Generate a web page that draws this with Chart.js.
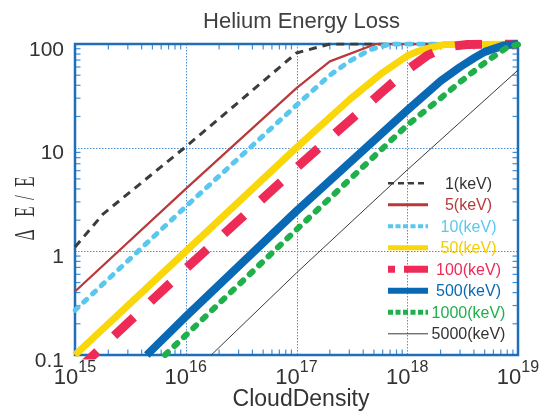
<!DOCTYPE html>
<html>
<head>
<meta charset="utf-8">
<script src="https://cdn.jsdelivr.net/npm/chart.js@4.4.1/dist/chart.umd.min.js"></script>
<style>
  html, body { margin: 0; padding: 0; background: #fff; }
  #wrap { width: 543px; height: 412px; position: relative; }
</style>
</head>
<body>
<div id="wrap"><canvas id="chart"></canvas></div>
<script>
'use strict';

// ── DATA ────────────────────────────────────────────────────────────────────
const TITLE = 'Helium Energy Loss';
const X_TITLE = 'CloudDensity';
const Y_TITLE = 'ΔE/E';

const X_TICKS = [1e15, 1e16, 1e17, 1e18, 1e19];
const X_TICK_EXP = ['15', '16', '17', '18', '19'];
const Y_TICKS = [0.1, 1, 10, 100];
const Y_TICK_LABELS = ['0.1', '1', '10', '100'];

const LABELS = ['1(keV)', '5(keV)', '10(keV)', '50(keV)', '100(keV)', '500(keV)', '1000(keV)', '5000(keV)'];

// cloud density / energy loss (%) per beam energy
const dens1    = [1e15, 1.8e15, 1e16, 3e16, 1e17, 2e17, 1e19];
const loss1    = [1.1, 2.3, 10.2, 27.5, 82, 100, 100];
const dens5    = [1e15, 1e16, 1e17, 2e17, 5.2e17, 1e19];
const loss5    = [0.41, 4.0, 37.5, 68, 100, 100];
const dens10   = [1e15, 1e16, 1e17, 2e17, 3e17, 4.6e17, 7e17, 1e19];
const loss10   = [0.27, 2.7, 25.7, 50, 68, 88, 100, 100];
const dens50   = [1e15, 1e16, 1e17, 3e17, 6e17, 1e18, 1.25e18, 1.5e18, 2.2e18, 1e19];
const loss50   = [0.1, 1.0, 10, 29, 53, 77, 85, 90, 99, 100];
const dens100  = [1e15, 1e16, 1e17, 6e17, 1e18, 1.5e18, 2e18, 2.5e18, 3.5e18, 1e19];
const loss100  = [0.068, 0.68, 6.4, 35, 56, 77, 89, 95, 99, 100];
const dens500  = [4.45e15, 1e16, 1e17, 1e18, 2e18, 3e18, 4e18, 5e18, 7.5e18, 1e19];
const loss500  = [0.1, 0.235, 2.45, 23, 44, 60, 73, 84, 97, 100];
const dens1000 = [6.5e15, 1e16, 1e17, 1e18, 2e18, 3e18, 5.2e18, 8e18, 1e19];
const loss1000 = [0.1, 0.155, 1.62, 16.5, 30, 43, 68, 93, 99];
const dens5000 = [1.7e16, 1e17, 1e18, 1e19];
const loss5000 = [0.1, 0.62, 6.1, 56];

const SERIES = [
  [dens1, loss1], [dens5, loss5], [dens10, loss10], [dens50, loss50],
  [dens100, loss100], [dens500, loss500], [dens1000, loss1000], [dens5000, loss5000]
];

// ── STYLE ───────────────────────────────────────────────────────────────────
const STYLES = [
  { color: '#3c3c3c', text: '#333333', width: 3,   dash: [8, 6],   cap: 'butt',  legW: 2.5, legDash: [6, 4] },
  { color: '#b8383b', text: '#b8383b', width: 2.2, dash: [],       cap: 'butt',  legW: 3,   legDash: [] },
  { color: '#5ac8ee', text: '#5ac8ee', width: 5,   dash: [4, 8],   cap: 'round', legW: 4,   legDash: [5, 2.5] },
  { color: '#f9d70b', text: '#f2cf00', width: 7,   dash: [],       cap: 'butt',  legW: 5,   legDash: [] },
  { color: '#ee2a56', text: '#ee2a56', width: 9,   dash: [27, 23], cap: 'butt',  legW: 7,   legDash: [7, 9, 30, 10], offset: 46.4 },
  { color: '#0a69b4', text: '#0a69b4', width: 8,   dash: [],       cap: 'butt',  legW: 6,   legDash: [] },
  { color: '#1fb04c', text: '#1fb04c', width: 6,   dash: [4, 9],   cap: 'round', legW: 5,   legDash: [5, 2.5] },
  { color: '#3a3a3a', text: '#333333', width: 1,   dash: [],       cap: 'butt',  legW: 1,   legDash: [] }
];

const SANS = '"Liberation Sans", Arial, sans-serif';
const GRID_COLOR = '#4b92d6';
const TICK_COLOR = '#3d8fd8';
const BORDER_COLOR = '#1e6fb9';

// ── PLUGIN: frame, ticks, labels, legend ────────────────────────────────────
function seg(ctx, x0, y0, x1, y1) {
  ctx.beginPath(); ctx.moveTo(x0, y0); ctx.lineTo(x1, y1); ctx.stroke();
}

const frame = {
  id: 'frame',
  beforeDatasetsDraw(chart) {
    const { ctx, chartArea: a, scales: { x, y } } = chart;
    ctx.save();

    // dotted decade grid
    ctx.strokeStyle = GRID_COLOR;
    ctx.lineWidth = 1;
    ctx.setLineDash([1.5, 1.5]);
    X_TICKS.slice(1, -1).forEach(v => {
      const px = Math.round(x.getPixelForValue(v)) + 0.5;
      seg(ctx, px, a.top, px, a.bottom);
    });
    Y_TICKS.slice(1, -1).forEach(v => {
      const py = Math.round(y.getPixelForValue(v)) + 0.5;
      seg(ctx, a.left, py, a.right, py);
    });

    // minor ticks, pointing inward on all four sides
    ctx.setLineDash([]);
    ctx.strokeStyle = TICK_COLOR;
    ctx.lineWidth = 1.2;
    const len = 5.5;
    for (let d = 15; d < 19; d++) {
      for (let m = 2; m <= 9; m++) {
        const px = x.getPixelForValue(m * Math.pow(10, d));
        seg(ctx, px, a.bottom, px, a.bottom - len);
        seg(ctx, px, a.top, px, a.top + len);
      }
    }
    for (let d = -1; d < 2; d++) {
      for (let m = 2; m <= 9; m++) {
        const py = y.getPixelForValue(m * Math.pow(10, d));
        seg(ctx, a.left, py, a.left + len, py);
        seg(ctx, a.right, py, a.right - len, py);
      }
    }

    // plot border
    ctx.strokeStyle = BORDER_COLOR;
    ctx.lineWidth = 2.5;
    ctx.strokeRect(a.left, a.top, a.right - a.left, a.bottom - a.top);
    ctx.restore();
  },

  afterDraw(chart) {
    const { ctx, scales: { x, y } } = chart;
    ctx.save();

    // title
    ctx.font = '22px ' + SANS;
    ctx.textAlign = 'center';
    ctx.textBaseline = 'alphabetic';
    ctx.fillStyle = '#404040';
    ctx.fillText(TITLE, 301.5, 28);

    // y tick labels
    ctx.fillStyle = '#333';
    ctx.font = '21px ' + SANS;
    ctx.textAlign = 'right';
    Y_TICKS.forEach((v, i) => ctx.fillText(Y_TICK_LABELS[i], 64, y.getPixelForValue(v) + 11.5));

    // x tick labels: 10 with superscript exponent
    ctx.textAlign = 'left';
    X_TICKS.forEach((v, i) => {
      const px = x.getPixelForValue(v);
      ctx.font = '22px ' + SANS;
      const wb = ctx.measureText('10').width;
      ctx.font = '16px ' + SANS;
      const we = ctx.measureText(X_TICK_EXP[i]).width;
      const x0 = px - (wb + we) / 2;
      ctx.font = '22px ' + SANS;
      ctx.fillText('10', x0, 384);
      ctx.font = '16px ' + SANS;
      ctx.fillText(X_TICK_EXP[i], x0 + wb, 372);
    });

    // x title
    ctx.font = '23px ' + SANS;
    ctx.textAlign = 'center';
    ctx.fillText(X_TITLE, 301, 406);

    // y title, rotated, narrow serif glyphs
    const charY = [235, 211.7, 197.5, 181.7];
    ctx.font = '30px "Liberation Serif", "Times New Roman", serif';
    ctx.textAlign = 'center';
    Array.from(Y_TITLE).forEach((ch, i) => {
      ctx.save();
      ctx.translate(33.5, charY[i]);
      ctx.rotate(-Math.PI / 2);
      ctx.scale(0.58, 1);
      ctx.fillText(ch, 0, 0);
      ctx.restore();
    });

    // legend inside the plot
    const lx0 = 388, lx1 = 428, tx = 468.5, ly0 = 183.3, dy = 21.5;
    chart.data.datasets.forEach((ds, i) => {
      const st = STYLES[i];
      const yy = ly0 + i * dy;
      ctx.strokeStyle = ds.borderColor;
      ctx.lineWidth = st.legW;
      ctx.lineCap = 'butt';
      ctx.setLineDash(st.legDash);
      seg(ctx, lx0, yy, lx1, yy);
      ctx.setLineDash([]);
      ctx.fillStyle = st.text;
      ctx.font = '16px ' + SANS;
      ctx.textAlign = 'center';
      ctx.textBaseline = 'middle';
      ctx.fillText(ds.label, tx, yy + 1);
    });
    ctx.restore();
  }
};

// ── CHART ───────────────────────────────────────────────────────────────────
const datasets = SERIES.map(([xs, ys], i) => {
  const st = STYLES[i];
  return {
    label: LABELS[i],
    data: xs.map((v, j) => ({ x: v, y: ys[j] })),
    borderColor: st.color,
    backgroundColor: st.color,
    borderWidth: st.width,
    borderDash: st.dash,
    borderDashOffset: st.offset || 0,
    borderCapStyle: st.cap,
    borderJoinStyle: 'round',
    tension: 0,
    pointRadius: 0,
    fill: false,
    clip: st.width / 2,
    order: SERIES.length - i
  };
});

new Chart(document.getElementById('chart'), {
  type: 'line',
  data: { datasets },
  options: {
    responsive: true,
    maintainAspectRatio: false,
    animation: false,
    events: [],
    layout: { padding: { left: 75, right: 25, top: 44, bottom: 57 } },
    plugins: {
      legend: { display: false },
      title: { display: false },
      tooltip: { enabled: false }
    },
    scales: {
      x: { type: 'logarithmic', min: 1e15, max: 1e19, display: false },
      y: { type: 'logarithmic', min: 0.1, max: 100, display: false }
    }
  },
  plugins: [frame]
});
</script>
</body>
</html>
